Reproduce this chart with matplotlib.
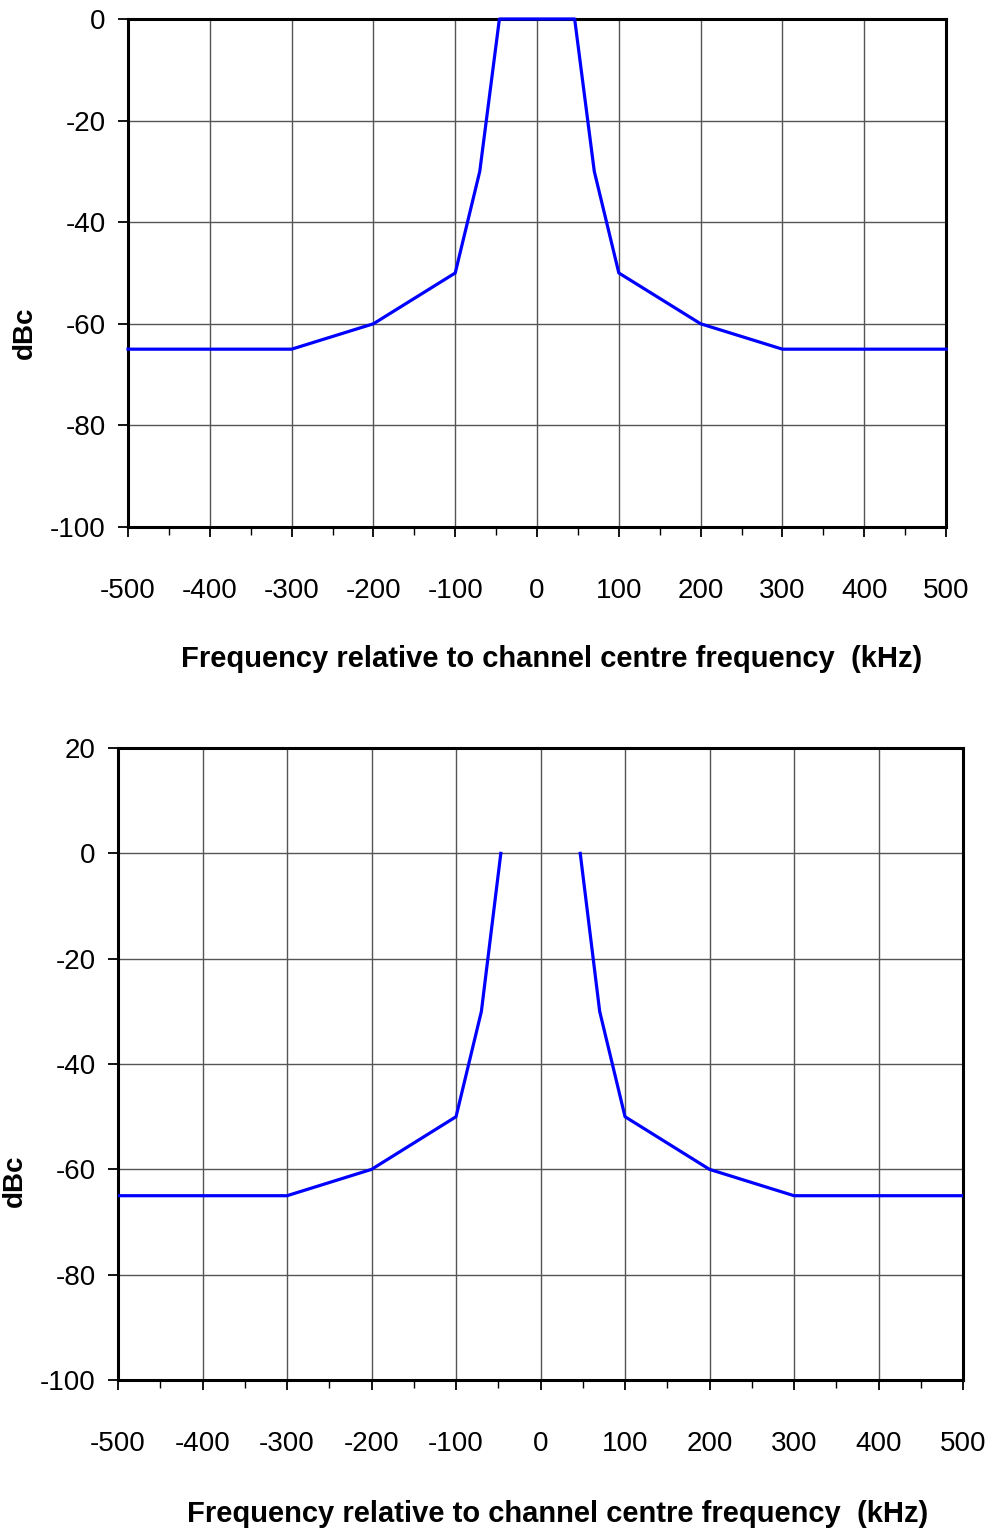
"""Spectrum mask plots: relative level vs offset from channel centre."""

import matplotlib

matplotlib.use("Agg")
import matplotlib.pyplot as plt
from matplotlib.ticker import MultipleLocator

plt.rcParams["font.family"] = ["Liberation Sans", "DejaVu Sans"]
plt.rcParams["axes.unicode_minus"] = False

# mask break points (kHz, dBc)
freq_khz = [-500, -300, -200, -100, -70, -46, 46, 70, 100, 200, 300, 500]
level_dbc = [-65, -65, -60, -50, -30, 0, 0, -30, -50, -60, -65, -65]

# second plot: same mask but the passband top is not drawn
lower_freq = [-500, -300, -200, -100, -70, -47]
lower_level = [-65, -65, -60, -50, -30, 0]
upper_freq = [47, 70, 100, 200, 300, 500]
upper_level = [0, -30, -50, -60, -65, -65]

x_ticks = [-500, -400, -300, -200, -100, 0, 100, 200, 300, 400, 500]
top_y_ticks = [0, -20, -40, -60, -80, -100]
bottom_y_ticks = [20, 0, -20, -40, -60, -80, -100]

XLABEL = "Frequency relative to channel centre frequency  (kHz)"
YLABEL = "dBc"
LINE_BLUE = "#0000FF"


def style_axis(axis, y_ticks, ylim, xlabel_pos, ylabel_pos):
    axis.set_xlim(-500, 500)
    axis.set_ylim(*ylim)
    axis.set_xticks(x_ticks)
    axis.xaxis.set_minor_locator(MultipleLocator(50))
    axis.set_yticks(y_ticks)
    axis.grid(True, which="major", color="#555555", linewidth=1.0)
    axis.set_axisbelow(True)
    for spine in axis.spines.values():
        spine.set_linewidth(2.2)
        spine.set_color("black")
    axis.tick_params(axis="x", which="major", direction="out", length=7, width=1.3,
                     pad=30, labelsize=20)
    axis.tick_params(axis="x", which="minor", direction="out", length=6, width=1.0)
    axis.tick_params(axis="y", which="major", direction="out", length=7, width=1.3,
                     pad=9, labelsize=20)
    axis.set_xlabel(XLABEL, fontsize=21, fontweight="bold")
    axis.set_ylabel(YLABEL, fontsize=20, fontweight="bold")
    axis.xaxis.set_label_coords(*xlabel_pos)
    axis.yaxis.set_label_coords(*ylabel_pos)


figure = plt.figure(figsize=(9.87, 15.31), dpi=100)

top = figure.add_axes([0.1297, 0.6558, 0.8288, 0.3318])
top.plot(freq_khz, level_dbc, color=LINE_BLUE, linewidth=2.3, clip_on=False, zorder=3)
style_axis(top, top_y_ticks, (-100, 0), (0.518, -0.232), (-0.110, 0.382))

bottom = figure.add_axes([0.1196, 0.0986, 0.8561, 0.4128])
bottom.plot(lower_freq, lower_level, color=LINE_BLUE, linewidth=2.3, zorder=3)
bottom.plot(upper_freq, upper_level, color=LINE_BLUE, linewidth=2.3, zorder=3)
style_axis(bottom, bottom_y_ticks, (-100, 20), (0.52, -0.19), (-0.107, 0.316))

figure.savefig("out.png", dpi=100)
plt.close(figure)
